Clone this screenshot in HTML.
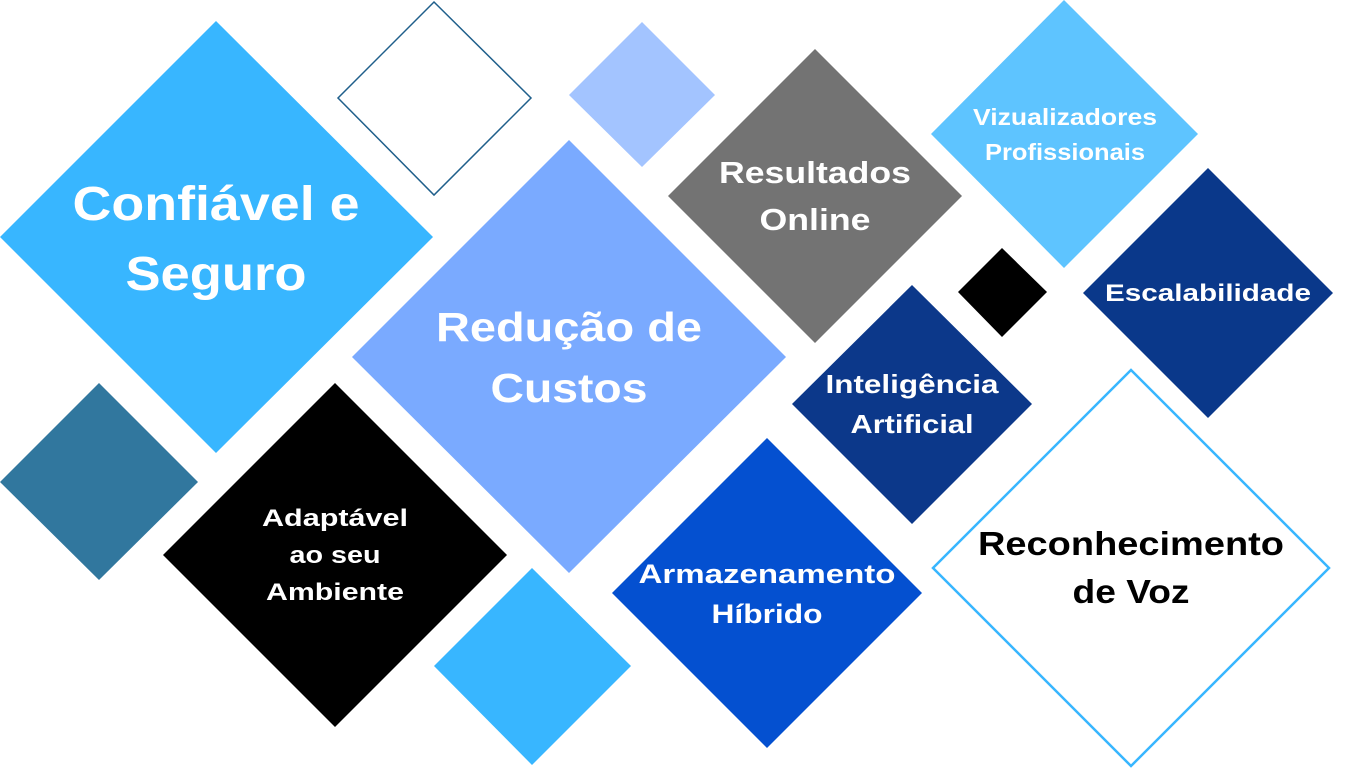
<!DOCTYPE html>
<html><head><meta charset="utf-8"><style>
html,body{margin:0;padding:0;background:#fff;}
svg{display:block;}
text{font-family:"Liberation Sans",sans-serif;font-weight:bold;text-anchor:middle;}
</style></head><body>
<svg width="1366" height="768" viewBox="0 0 1366 768">
<polygon points="216,21 433,237 216,453 0,237" fill="#38b6ff"/>
<polygon points="434,2 531,98 434,195 338,98" fill="none" stroke="#1f5f8b" stroke-width="1.5"/>
<polygon points="642,22 715,95 642,167 569,95" fill="#a3c4ff"/>
<polygon points="815,49 962,196 815,343 668,196" fill="#737373"/>
<polygon points="1064,0 1198,134 1064,268 931,134" fill="#5ec4ff"/>
<polygon points="1002,248 1047,292 1002,337 958,292" fill="#000"/>
<polygon points="1208,168 1333,293 1208,418 1083,293" fill="#0a388a"/>
<polygon points="569,140 786,357 569,573 352,357" fill="#7aaaff"/>
<polygon points="912,285 1032,404 912,524 792,404" fill="#0c388a"/>
<polygon points="1131,370 1329,568 1131,766 933,568" fill="#fff" stroke="#38b6ff" stroke-width="2.5"/>
<polygon points="99,383 198,482 99,580 0,482" fill="#31779e"/>
<polygon points="335,383 507,555 335,727 163,555" fill="#000"/>
<polygon points="532,568 631,666 532,765 434,666" fill="#38b6ff"/>
<polygon points="767,438 922,593 767,748 612,593" fill="#0450d0"/>

<text x="216" y="220" font-size="48" fill="#fff" textLength="287" lengthAdjust="spacingAndGlyphs">Confiável e</text>
<text x="216" y="290" font-size="48" fill="#fff" textLength="181" lengthAdjust="spacingAndGlyphs">Seguro</text>
<text x="569" y="341" font-size="41" fill="#fff" textLength="266" lengthAdjust="spacingAndGlyphs">Redução de</text>
<text x="569" y="402" font-size="41" fill="#fff" textLength="157" lengthAdjust="spacingAndGlyphs">Custos</text>
<text x="815" y="183" font-size="31" fill="#fff" textLength="192" lengthAdjust="spacingAndGlyphs">Resultados</text>
<text x="815" y="230" font-size="31" fill="#fff" textLength="111" lengthAdjust="spacingAndGlyphs">Online</text>
<text x="1065" y="125" font-size="23" fill="#fff" textLength="184" lengthAdjust="spacingAndGlyphs">Vizualizadores</text>
<text x="1065" y="160" font-size="23" fill="#fff" textLength="160" lengthAdjust="spacingAndGlyphs">Profissionais</text>
<text x="1208" y="301" font-size="24" fill="#fff" textLength="206" lengthAdjust="spacingAndGlyphs">Escalabilidade</text>
<text x="912" y="393" font-size="26" fill="#fff" textLength="173" lengthAdjust="spacingAndGlyphs">Inteligência</text>
<text x="912" y="433" font-size="26" fill="#fff" textLength="123" lengthAdjust="spacingAndGlyphs">Artificial</text>
<text x="1131" y="555" font-size="33" fill="#000" textLength="306" lengthAdjust="spacingAndGlyphs">Reconhecimento</text>
<text x="1131" y="603" font-size="33" fill="#000" textLength="117" lengthAdjust="spacingAndGlyphs">de Voz</text>
<text x="335" y="526" font-size="24" fill="#fff" textLength="146" lengthAdjust="spacingAndGlyphs">Adaptável</text>
<text x="335" y="563" font-size="24" fill="#fff" textLength="91" lengthAdjust="spacingAndGlyphs">ao seu</text>
<text x="335" y="600" font-size="24" fill="#fff" textLength="138" lengthAdjust="spacingAndGlyphs">Ambiente</text>
<text x="767" y="583" font-size="27" fill="#fff" textLength="257" lengthAdjust="spacingAndGlyphs">Armazenamento</text>
<text x="767" y="623" font-size="27" fill="#fff" textLength="111" lengthAdjust="spacingAndGlyphs">Híbrido</text>
</svg>
</body></html>
